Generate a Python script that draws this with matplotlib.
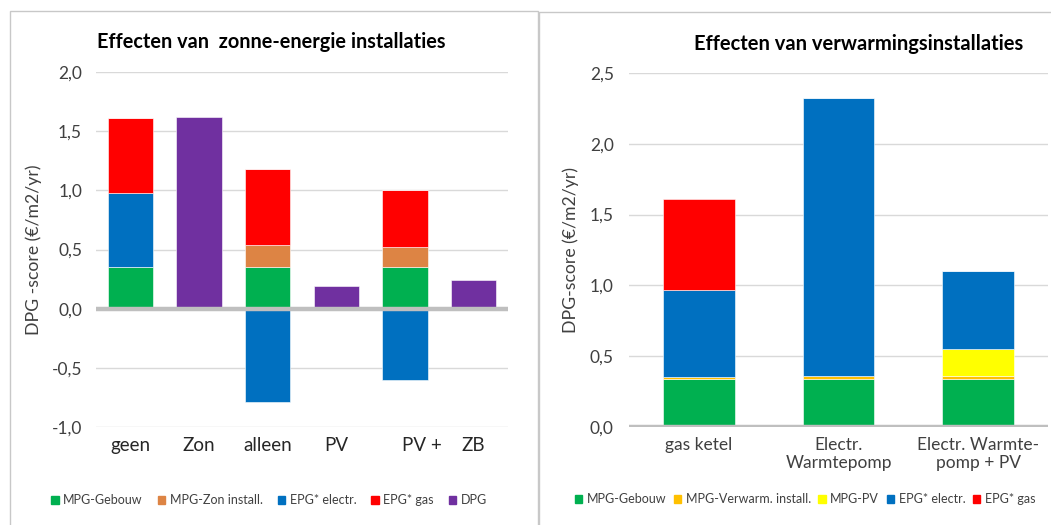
import matplotlib
matplotlib.use('Agg')
import matplotlib.pyplot as plt
import numpy as np
from matplotlib.patches import Patch, Rectangle
from matplotlib.transforms import ScaledTranslation

plt.rcParams['font.family'] = ['Lato', 'DejaVu Sans']

# linker grafiek: zonne-energie
left_cats = ['geen', 'Zon', 'alleen', 'PV', 'PV +', 'ZB']
mpg_gebouw = [0.35, 0, 0.35, 0, 0.35, 0]
mpg_zon = [0, 0, 0.19, 0, 0.17, 0]
epg_electr = [0.63, 0, -0.79, 0, -0.60, 0]
epg_gas = [0.63, 0, 0.64, 0, 0.48, 0]
dpg = [0, 1.62, 0, 0.19, 0, 0.24]

# rechter grafiek: verwarming
right_cats = ['gas ketel', 'Electr.\nWarmtepomp', 'Electr. Warmte-\npomp + PV']
mpg_gebouw_r = [0.34, 0.34, 0.34]
mpg_verwarm = [0.01, 0.02, 0.02]
mpg_pv = [0, 0, 0.19]
epg_electr_r = [0.62, 1.96, 0.55]
epg_gas_r = [0.64, 0, 0]

GREEN = '#00b050'
ORANGE = '#dd8444'
BLUE = '#0070c0'
RED = '#ff0000'
PURPLE = '#7030a0'
GOLD = '#ffc000'
YELLOW = '#ffff00'
TXT = '#404040'


def stack(ax, x, series, width):
    pos = np.zeros(len(x))
    neg = np.zeros(len(x))
    for vals, col in series:
        vals = np.array(vals, dtype=float)
        bottom = np.where(vals >= 0, pos, neg)
        ax.bar(x, vals, width, bottom=bottom, color=col, edgecolor='white',
               linewidth=0.4, zorder=2)
        pos = pos + np.where(vals > 0, vals, 0)
        neg = neg + np.where(vals < 0, vals, 0)


def style(ax):
    for s in ax.spines.values():
        s.set_visible(False)
    ax.yaxis.grid(True, color='#d9d9d9', linewidth=1, zorder=0)
    ax.set_axisbelow(True)
    ax.tick_params(length=0, colors=TXT, labelsize=12.5)
    ax.tick_params(axis='y', pad=10)
    ax.axhline(0, color='#bfbfbf', linewidth=3.2, zorder=3)


fig = plt.figure(figsize=(10.51, 5.25), dpi=100)

# panel kaders
fig.add_artist(Rectangle((10 / 1051, -0.01), 528 / 1051, 1 - 11 / 525 + 0.01,
                         transform=fig.transFigure, fill=False,
                         edgecolor='#c8c8c8', linewidth=1))
fig.add_artist(Rectangle((539 / 1051, -0.01), 520 / 1051, 1 - 12 / 525 + 0.01,
                         transform=fig.transFigure, fill=False,
                         edgecolor='#c8c8c8', linewidth=1))

# ---- links
ax1 = fig.add_axes([96 / 1051, 1 - 427 / 525, 412 / 1051, 355 / 525])
x1 = np.arange(len(left_cats))
stack(ax1, x1, [(mpg_gebouw, GREEN), (mpg_zon, ORANGE), (epg_electr, BLUE),
                (epg_gas, RED), (dpg, PURPLE)], 0.66)
style(ax1)
ax1.set_xlim(-0.5, len(left_cats) - 0.5)
ax1.set_ylim(-1.0, 2.0)
ax1.set_yticks(np.arange(-1.0, 2.01, 0.5))
ax1.set_yticklabels([f'{v:.1f}'.replace('.', ',') for v in np.arange(-1.0, 2.01, 0.5)])
ax1.set_xticks(x1)
ax1.set_xticklabels(left_cats, fontsize=13.5, color='#262626')
ax1.tick_params(axis='x', pad=7)
lbl = ax1.get_xticklabels()[4]
lbl.set_transform(lbl.get_transform() + ScaledTranslation(0.17, 0, fig.dpi_scale_trans))
ax1.set_ylabel('DPG -score (€/m2/yr)', fontsize=12.7, color=TXT, labelpad=7)
fig.text(271 / 1051, 1 - 42 / 525, 'Effecten van  zonne-energie installaties',
         ha='center', va='center', fontsize=14.3, fontweight='bold')
h1 = [Patch(color=GREEN, label='MPG-Gebouw'), Patch(color=ORANGE, label='MPG-Zon install.'),
      Patch(color=BLUE, label='EPG* electr.'), Patch(color=RED, label='EPG* gas'),
      Patch(color=PURPLE, label='DPG')]
fig.legend(handles=h1, loc='center', bbox_to_anchor=(269 / 1051, 1 - 500 / 525),
           ncol=5, frameon=False, fontsize=9.0, handlelength=0.6, handleheight=0.6,
           handletextpad=0.35, columnspacing=1.2, labelcolor=TXT)

# ---- rechts
ax2 = fig.add_axes([629 / 1051, 1 - 427 / 525, 419 / 1051, 354 / 525])
x2 = np.arange(len(right_cats))
stack(ax2, x2, [(mpg_gebouw_r, GREEN), (mpg_verwarm, GOLD), (mpg_pv, YELLOW),
                (epg_electr_r, BLUE), (epg_gas_r, RED)], 0.515)
style(ax2)
ax2.tick_params(axis='y', pad=11)
ax2.set_xlim(-0.5, len(right_cats) - 0.5)
ax2.set_ylim(0, 2.5)
ax2.set_yticks(np.arange(0, 2.51, 0.5))
ax2.set_yticklabels([f'{v:.1f}'.replace('.', ',') for v in np.arange(0, 2.51, 0.5)])
ax2.set_xticks(x2)
ax2.set_xticklabels(right_cats, fontsize=12.5, color=TXT, linespacing=1.2)
ax2.tick_params(axis='x', pad=7)
ax2.set_ylabel('DPG-score (€/m2/yr)', fontsize=12.7, color=TXT, labelpad=8)
fig.text(859 / 1051, 1 - 44 / 525, 'Effecten van verwarmingsinstallaties',
         ha='center', va='center', fontsize=14.5, fontweight='bold')
h2 = [Patch(color=GREEN, label='MPG-Gebouw'), Patch(color=GOLD, label='MPG-Verwarm. install.'),
      Patch(color=YELLOW, label='MPG-PV'), Patch(color=BLUE, label='EPG* electr.'),
      Patch(color=RED, label='EPG* gas')]
fig.legend(handles=h2, loc='center', bbox_to_anchor=(805 / 1051, 1 - 499 / 525),
           ncol=5, frameon=False, fontsize=9.0, handlelength=0.6, handleheight=0.6,
           handletextpad=0.35, columnspacing=0.6, labelcolor=TXT)

fig.savefig('out.png', dpi=100)
